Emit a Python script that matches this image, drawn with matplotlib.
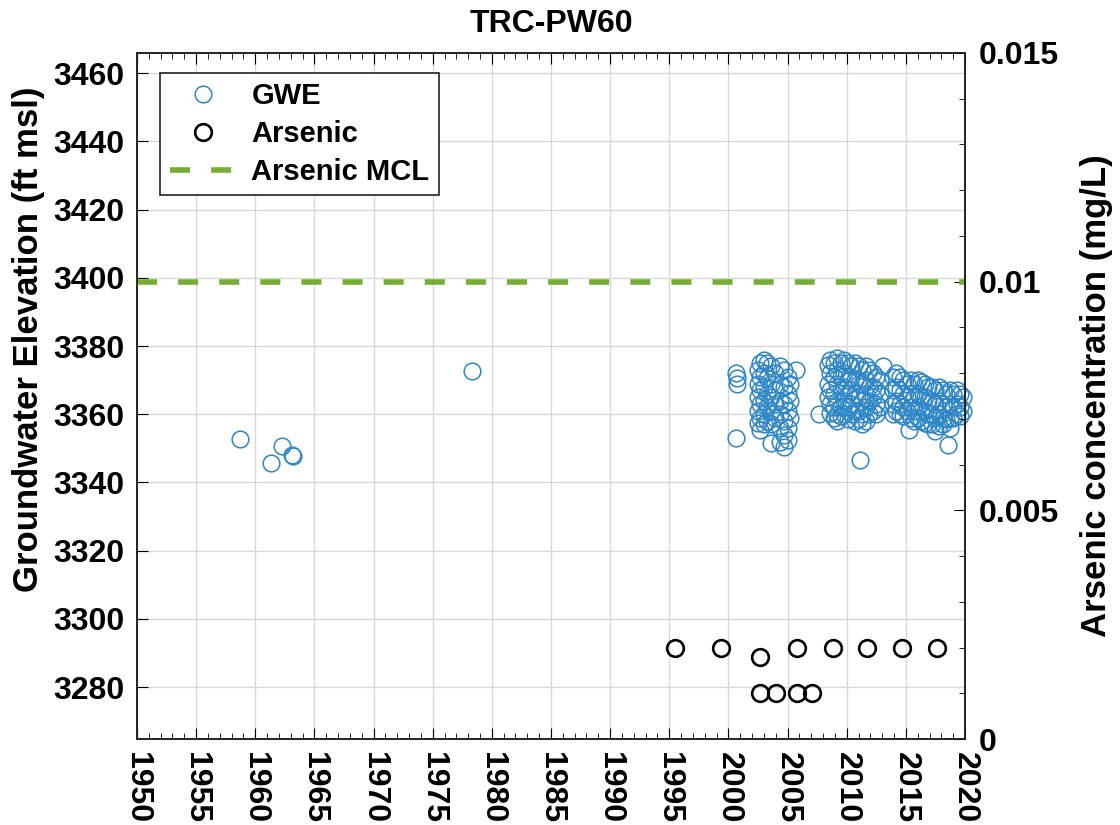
import matplotlib
matplotlib.use('Agg')
import matplotlib.pyplot as plt
from matplotlib import ticker

plt.rcParams['font.family'] = ['Liberation Sans', 'DejaVu Sans']
plt.rcParams['font.weight'] = 'bold'
plt.rcParams['axes.titleweight'] = 'bold'
plt.rcParams['axes.labelweight'] = 'bold'

# groundwater elevation (ft msl)
gwe_year = [
    1958.7, 1961.3, 1962.3, 1963.1, 1963.2, 1978.3,
    2000.6, 2000.7, 2000.7, 2000.6,
    # 2002-2005 burst
    2002.5, 2002.5, 2002.5, 2002.5, 2002.5,
    2002.7, 2002.7, 2002.7, 2002.7, 2002.7, 2002.7,
    2003.0, 2003.0, 2003.0, 2003.0, 2003.0, 2003.0,
    2003.3, 2003.3, 2003.3, 2003.3, 2003.3,
    2003.6, 2003.6, 2003.6, 2003.6, 2003.6, 2003.6,
    2003.9, 2003.9, 2003.9, 2003.9,
    2004.4, 2004.4, 2004.4, 2004.4, 2004.4, 2004.4,
    2004.7, 2004.7, 2004.7, 2004.7, 2004.7, 2004.7,
    2005.0, 2005.0, 2005.0, 2005.0, 2005.0,
    2005.2, 2005.2, 2005.2,
    2005.75, 2007.7,
    # 2008-2013
    2008.4, 2008.4, 2008.4,
    2008.6, 2008.6, 2008.6, 2008.6, 2008.6,
    2008.9, 2008.9, 2008.9, 2008.9, 2008.9,
    2009.2, 2009.2, 2009.2, 2009.2, 2009.2, 2009.2,
    2009.5, 2009.5, 2009.5, 2009.5, 2009.5,
    2009.8, 2009.8, 2009.8, 2009.8, 2009.8,
    2010.1, 2010.1, 2010.1, 2010.1, 2010.1,
    2010.4, 2010.4, 2010.4, 2010.4, 2010.4,
    2010.7, 2010.7, 2010.7, 2010.7, 2010.7,
    2011.0, 2011.0, 2011.0, 2011.0, 2011.0,
    2011.3, 2011.3, 2011.3, 2011.3, 2011.3,
    2011.1,
    2011.6, 2011.6, 2011.6, 2011.6, 2011.6,
    2011.9, 2011.9, 2011.9, 2011.9,
    2012.2, 2012.2, 2012.2, 2012.2,
    2012.5, 2012.5, 2012.5, 2012.5,
    2012.8, 2012.8, 2012.8,
    2013.1,
    # 2013-2020
    2013.9, 2013.9, 2013.9, 2013.9,
    2014.2, 2014.2, 2014.2, 2014.2,
    2014.5, 2014.5, 2014.5, 2014.5,
    2014.8, 2014.8, 2014.8, 2014.8,
    2015.1, 2015.1, 2015.1,
    2015.3,
    2015.4, 2015.4, 2015.4, 2015.4,
    2015.7, 2015.7, 2015.7, 2015.7,
    2016.0, 2016.0, 2016.0, 2016.0,
    2016.3, 2016.3, 2016.3, 2016.3,
    2016.6, 2016.6, 2016.6, 2016.6,
    2016.9, 2016.9, 2016.9, 2016.9,
    2017.2, 2017.2, 2017.2, 2017.2,
    2017.5, 2017.5, 2017.5, 2017.5,
    2017.8, 2017.8, 2017.8, 2017.8,
    2018.1, 2018.1, 2018.1, 2018.1,
    2018.4, 2018.4, 2018.4,
    2018.6,
    2018.7, 2018.7, 2018.7, 2018.7,
    2019.0, 2019.0, 2019.0,
    2019.3, 2019.3, 2019.3,
    2019.6, 2019.6, 2019.6,
    2019.8, 2019.8,
]
gwe_elev = [
    3352.6, 3345.6, 3350.8, 3348.0, 3347.8, 3372.8,
    3372.0, 3370.5, 3369.0, 3353.0,
    3373, 3369, 3365, 3361, 3357.5,
    3375, 3371, 3367, 3363, 3359, 3355.5,
    3376, 3372, 3368, 3364, 3360, 3357,
    3375, 3370.5, 3366, 3362, 3358,
    3374, 3369, 3365, 3361, 3357, 3351.5,
    3372, 3367, 3363, 3359,
    3374, 3369, 3364, 3360, 3356, 3352,
    3373, 3368, 3363, 3358, 3354, 3350.5,
    3371, 3366, 3361, 3356, 3352.5,
    3369, 3364, 3359,
    3373, 3360,
    3374.5, 3369, 3365,
    3376, 3372, 3367, 3363, 3360.5,
    3375, 3371, 3366, 3362, 3359,
    3376.5, 3373, 3369, 3364, 3360, 3358,
    3375, 3371, 3367, 3362, 3359.5,
    3376, 3372, 3368, 3364, 3360,
    3375, 3370, 3366, 3362, 3358.5,
    3374, 3371, 3367, 3363, 3360,
    3375, 3370, 3366, 3361, 3358,
    3374, 3369, 3365, 3361, 3358.5,
    3373, 3369, 3364, 3360, 3357,
    3346.6,
    3374, 3370, 3366, 3362, 3358,
    3373, 3368, 3364, 3360,
    3372, 3368, 3365, 3361,
    3371, 3367, 3363, 3360,
    3370, 3366, 3362,
    3374,
    3371, 3367, 3363, 3360,
    3372, 3368, 3364, 3361,
    3371, 3367, 3363, 3360,
    3370, 3366, 3362, 3359.5,
    3369, 3365, 3361,
    3355.5,
    3370, 3366, 3362, 3359,
    3369, 3365, 3361, 3358,
    3370, 3366, 3362, 3359,
    3369.5, 3365, 3361, 3358,
    3369, 3365, 3361, 3357.5,
    3368, 3364, 3360, 3357,
    3368, 3364, 3360, 3357,
    3367, 3363, 3359, 3355,
    3368, 3364, 3360, 3356.5,
    3367, 3363, 3359, 3357,
    3366, 3362, 3358.5,
    3351,
    3367, 3363, 3359, 3356,
    3366, 3362, 3359,
    3367, 3363, 3360,
    3366, 3362, 3359.5,
    3365, 3361,
]

# arsenic (mg/L)
as_year = [1995.5, 1999.4, 2002.7, 2002.7, 2004.0, 2005.8, 2005.8,
           2007.1, 2008.8, 2011.7, 2014.7, 2017.6]
as_conc = [0.002, 0.002, 0.0018, 0.001, 0.001, 0.002, 0.001,
           0.001, 0.002, 0.002, 0.002, 0.002]
mcl = 0.01

blue = '#2f87c8'
green = '#76ad35'

fig = plt.figure(figsize=(11.2, 8.25), dpi=100)
ax = fig.add_axes([0.1223, 0.1042, 0.7393, 0.8316])
ax2 = ax.twinx()

ax.plot(gwe_year, gwe_elev, 'o', mfc='none', mec=blue, ms=12, mew=1.1,
        label='GWE', clip_on=False)
ax2.plot(as_year, as_conc, 'o', mfc='none', mec='black', ms=12, mew=1.9,
         label='Arsenic')
ax2.axhline(mcl, color=green, lw=4, ls=(0, (3.6, 3.8)), label='Arsenic MCL')

ax.set_xlim(1950, 2020)
ax.set_ylim(3264.8, 3465.9)
ax2.set_ylim(0, 0.015)

ax.xaxis.set_major_locator(ticker.MultipleLocator(5))
ax.xaxis.set_minor_locator(ticker.MultipleLocator(1))
ax.yaxis.set_major_locator(ticker.MultipleLocator(20))
ax.yaxis.set_minor_locator(ticker.NullLocator())
ax2.yaxis.set_major_locator(ticker.FixedLocator([0, 0.005, 0.01, 0.015]))
ax2.yaxis.set_minor_locator(ticker.MultipleLocator(0.001))
ax2.yaxis.set_major_formatter(ticker.FuncFormatter(lambda v, p: f'{v:g}'))

ax.grid(True, which='major', color='#d8d8d8', lw=1)
ax.set_axisbelow(True)

ax.tick_params(axis='x', which='both', direction='in', top=True,
               labelsize=23, pad=9, labelrotation=-90)
ax.tick_params(axis='x', which='major', length=8)
ax.tick_params(axis='x', which='minor', length=4)
ax.tick_params(axis='y', which='major', direction='in', length=8,
               labelsize=23, pad=9)
ax2.tick_params(axis='y', which='major', direction='in', length=8,
                labelsize=23, pad=10)
ax2.tick_params(axis='y', which='minor', direction='in', length=4)
for lab in ax.get_xticklabels():
    lab.set_va('top')

for a in (ax, ax2):
    for s in a.spines.values():
        s.set_linewidth(1.2)
        s.set_color('#222222')

ax.set_ylabel('Groundwater Elevation (ft msl)', fontsize=25, va='center')
ax.yaxis.set_label_coords(-0.1316, 0.583)
ax2.set_ylabel('Arsenic concentration (mg/L)', fontsize=25, va='center')
ax2.yaxis.set_label_coords(1.1594, 0.5)
ax.set_title('TRC-PW60', fontsize=23, pad=15)

h1, l1 = ax.get_legend_handles_labels()
h2, l2 = ax2.get_legend_handles_labels()
leg = ax2.legend(h1 + h2, l1 + l2, loc='upper left',
                 bbox_to_anchor=(0.028, 0.971), fontsize=21,
                 frameon=True, fancybox=False, edgecolor='#222222',
                 framealpha=1, handlelength=2.3, handletextpad=0.5,
                 labelspacing=0.33, borderpad=0.33, borderaxespad=0)
leg.get_frame().set_linewidth(1.2)

fig.savefig('out.png', dpi=100)
